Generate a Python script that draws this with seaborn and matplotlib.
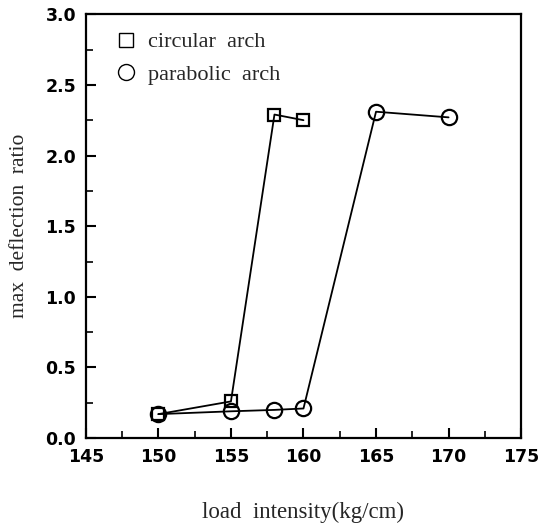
import matplotlib
matplotlib.use("Agg")
import matplotlib.pyplot as plt
import seaborn as sns
import pandas as pd
from matplotlib.lines import Line2D
from matplotlib.ticker import MultipleLocator

circ_x = [150, 155, 158, 160]
circ_y = [0.17, 0.26, 2.29, 2.25]
para_x = [150, 155, 158, 160, 165, 170]
para_y = [0.17, 0.19, 0.20, 0.21, 2.31, 2.27]
labels = ["circular  arch", "parabolic  arch"]

sns.set_theme(style="white")
plt.rcParams["font.family"] = ["DejaVu Sans"]

fig = plt.figure(figsize=(5.4, 5.26), dpi=100)
ax = fig.add_axes([0.159, 0.167, 0.806, 0.806])

dc = pd.DataFrame({"x": circ_x, "y": circ_y})
dp = pd.DataFrame({"x": para_x, "y": para_y})
sns.lineplot(data=dc, x="x", y="y", ax=ax, color="black", lw=1.3,
             marker="s", markersize=8.5, markerfacecolor="none",
             markeredgecolor="black", markeredgewidth=1.6)
sns.lineplot(data=dp, x="x", y="y", ax=ax, color="black", lw=1.3,
             marker="o", markersize=11, markerfacecolor="none",
             markeredgecolor="black", markeredgewidth=1.6)

ax.set_xlim(145, 175)
ax.set_ylim(0, 3.0)
ax.xaxis.set_major_locator(MultipleLocator(5))
ax.xaxis.set_minor_locator(MultipleLocator(2.5))
ax.yaxis.set_major_locator(MultipleLocator(0.5))
ax.yaxis.set_minor_locator(MultipleLocator(0.25))
ax.tick_params(axis="both", which="both", direction="in", top=False, right=False,
               bottom=True, left=True, colors="black")
ax.tick_params(which="major", length=7, width=1.5, pad=7)
ax.tick_params(which="minor", length=5, width=1.2)
for lab in ax.get_xticklabels() + ax.get_yticklabels():
    lab.set_fontsize(12.5)
    lab.set_fontweight("bold")
    lab.set_family("DejaVu Sans")
for s in ax.spines.values():
    s.set_color("black")
    s.set_linewidth(1.6)

ax.set_xlabel("load  intensity(kg/cm)", family="Liberation Serif", fontsize=16.5, labelpad=26)
ax.set_ylabel("max  deflection  ratio", family="Liberation Serif", fontsize=15.5, labelpad=12)

handles = [
    Line2D([], [], ls="none", marker="s", markersize=10.5, markerfacecolor="none",
           markeredgecolor="black", markeredgewidth=1.0),
    Line2D([], [], ls="none", marker="o", markersize=11.5, markerfacecolor="none",
           markeredgecolor="black", markeredgewidth=1.0),
]
ax.legend(handles, labels, loc="upper left", frameon=False, bbox_to_anchor=(0.025, 0.995),
          prop={"family": "Liberation Serif", "size": 16},
          handletextpad=0.4, borderaxespad=0.3, labelspacing=0.55, handlelength=1.2)

fig.savefig("out.png", dpi=100)
